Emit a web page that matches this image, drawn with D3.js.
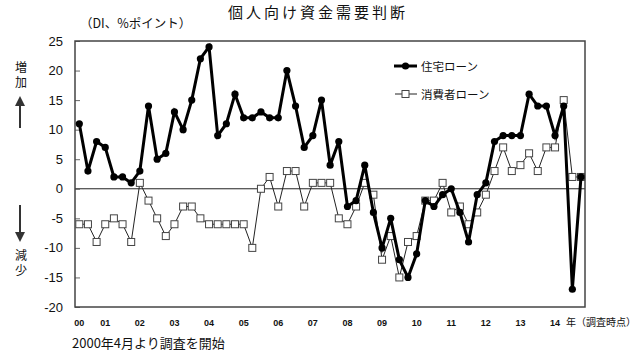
<!DOCTYPE html>
<html>
<head>
<meta charset="utf-8">
<script src="https://cdn.jsdelivr.net/npm/d3@7"></script>
<style>
  body { margin: 0; background: #fff; }
  text { font-family: "Noto Sans CJK JP", "Noto Sans", sans-serif; fill: #111; }
</style>
</head>
<body>
<svg id="chart"></svg>
<script>
// Set up the SVG dimensions
const width = 640;
const height = 359;

// quarterly surveys, starting April 2000
const startYear = 2000;
const startQuarter = 1; // 0 = Jan, 1 = Apr, 2 = Jul, 3 = Oct

// 住宅ローン
const housingLoan = [
  11, 3, 8, 7, 2, 2, 1, 3, 14, 5, 6, 13, 10, 15, 22, 24, 9, 11, 16, 12,
  12, 13, 12, 12, 20, 14, 7, 9, 15, 4, 8, -3, -2, 4, -4, -10, -5, -12, -15, -11,
  -2, -3, -1, 0, -4, -9, -1, 1, 8, 9, 9, 9, 16, 14, 14, 9, 14, -17, 2
];

// 消費者ローン
const consumerLoan = [
  -6, -6, -9, -6, -5, -6, -9, 1, -2, -5, -8, -6, -3, -3, -5, -6, -6, -6, -6, -6,
  -10, 0, 2, -3, 3, 3, -3, 1, 1, 1, -5, -6, -3, 1, -1, -12, -8, -15, -9, -8,
  -2, -2, 1, -4, -3, -6, -4, -1, 3, 7, 3, 4, 6, 3, 7, 7, 15, 2, 2
];

const seriesNames = ["住宅ローン", "消費者ローン"];
const yTicks = [25, 20, 15, 10, 5, 0, -5, -10, -15, -20];
const sideLabels = ["増加", "減少"];

const title = "個人向け資金需要判断";
const unitLabel = "（DI、%ポイント）";
const xUnitLabel = "年（調査時点）";
const note = "2000年4月より調査を開始";

const svg = d3.select("#chart")
  .attr("width", width)
  .attr("height", height);

const plot = { left: 75, right: 585, top: 41, bottom: 307 };

const x = d3.scaleLinear()
  .domain([0, housingLoan.length - 1])
  .range([79.3, 581]);

const y = d3.scaleLinear()
  .domain([-20, 25])
  .range([plot.bottom, plot.top]);

// year label goes on the first survey of each year
const yearTicks = d3.range(housingLoan.length)
  .filter(i => i === 0 || (i + startQuarter) % 4 === 0)
  .map(i => ({ i, label: String(startYear + Math.floor((i + startQuarter) / 4)).slice(2) }));

// zero line
svg.append("line")
  .attr("x1", plot.left).attr("x2", plot.right)
  .attr("y1", y(0)).attr("y2", y(0))
  .attr("stroke", "#222")
  .attr("stroke-width", 1);

// y axis (ticks point inward)
const yAxis = svg.append("g")
  .attr("transform", `translate(${plot.left},0)`)
  .call(d3.axisRight(y).tickValues(yTicks).tickSize(5).tickFormat(""));
yAxis.select(".domain").remove();
yAxis.selectAll("line").attr("stroke", "#666");

svg.append("g")
  .selectAll("text")
  .data(yTicks)
  .enter()
  .append("text")
  .attr("x", 63)
  .attr("y", d => y(d))
  .attr("dy", "0.35em")
  .attr("text-anchor", "end")
  .style("font-family", "'Liberation Sans', Arial, sans-serif")
  .style("font-size", "13px")
  .text(d => d);

// frame
svg.append("rect")
  .attr("x", plot.left).attr("y", plot.top)
  .attr("width", plot.right - plot.left)
  .attr("height", plot.bottom - plot.top)
  .attr("fill", "none")
  .attr("stroke", "#444")
  .attr("stroke-width", 1.5);

// x labels
svg.append("g")
  .selectAll("text")
  .data(yearTicks)
  .enter()
  .append("text")
  .attr("x", d => x(d.i))
  .attr("y", 323)
  .attr("dy", "0.35em")
  .attr("text-anchor", "middle")
  .style("font-family", "'Liberation Sans', Arial, sans-serif")
  .style("font-size", "9px")
  .style("font-weight", "bold")
  .text(d => d.label);

svg.append("text")
  .attr("x", 566).attr("y", 322)
  .attr("dy", "0.35em")
  .style("font-size", "10px")
  .text(xUnitLabel);

// consumer loan line + squares
const line = data => d3.line()
  .x((d, i) => x(i))
  .y(d => y(d))(data);

svg.append("path")
  .attr("d", line(consumerLoan))
  .attr("fill", "none")
  .attr("stroke", "#222")
  .attr("stroke-width", 1);

svg.append("g")
  .selectAll("rect")
  .data(consumerLoan)
  .enter()
  .append("rect")
  .attr("x", (d, i) => x(i) - 3.5)
  .attr("y", d => y(d) - 3.5)
  .attr("width", 7)
  .attr("height", 7)
  .attr("fill", "#fff")
  .attr("stroke", "#444")
  .attr("stroke-width", 1);

// housing loan line + dots
svg.append("path")
  .attr("d", line(housingLoan))
  .attr("fill", "none")
  .attr("stroke", "#000")
  .attr("stroke-width", 3);

svg.append("g")
  .selectAll("circle")
  .data(housingLoan)
  .enter()
  .append("circle")
  .attr("cx", (d, i) => x(i))
  .attr("cy", d => y(d))
  .attr("r", 3.6)
  .attr("fill", "#000");

// legend
const legend = svg.append("g");
legend.append("line")
  .attr("x1", 394).attr("x2", 417).attr("y1", 66).attr("y2", 66)
  .attr("stroke", "#000").attr("stroke-width", 3);
legend.append("circle")
  .attr("cx", 405.5).attr("cy", 66).attr("r", 3.6).attr("fill", "#000");
legend.append("text")
  .attr("x", 421).attr("y", 67).attr("dy", "0.35em")
  .style("font-size", "11.5px")
  .text(seriesNames[0]);

legend.append("line")
  .attr("x1", 395).attr("x2", 417).attr("y1", 94).attr("y2", 94)
  .attr("stroke", "#222").attr("stroke-width", 1);
legend.append("rect")
  .attr("x", 402).attr("y", 90.5).attr("width", 7).attr("height", 7)
  .attr("fill", "#fff").attr("stroke", "#444");
legend.append("text")
  .attr("x", 421).attr("y", 95).attr("dy", "0.35em")
  .style("font-size", "11.5px")
  .text(seriesNames[1]);

// titles
svg.append("text")
  .attr("x", 228).attr("y", 13).attr("dy", "0.35em")
  .attr("textLength", 177)
  .attr("lengthAdjust", "spacing")
  .style("font-size", "15px")
  .text(title);

svg.append("text")
  .attr("x", 80).attr("y", 24).attr("dy", "0.35em")
  .style("font-size", "12.5px")
  .text(unitLabel);

svg.append("text")
  .attr("x", 72).attr("y", 343).attr("dy", "0.35em")
  .style("font-size", "13px")
  .text(note);

// side labels (vertical) with arrows
const side = svg.append("g");
side.selectAll("text")
  .data(sideLabels)
  .enter()
  .append("text")
  .attr("x", 21)
  .attr("y", (d, k) => k === 0 ? 61 : 249)
  .style("writing-mode", "vertical-rl")
  .style("font-size", "12px")
  .style("letter-spacing", "3px")
  .text(d => d);

svg.append("defs").append("marker")
  .attr("id", "arrow")
  .attr("viewBox", "0 0 10 10")
  .attr("refX", 5).attr("refY", 5)
  .attr("markerWidth", 5).attr("markerHeight", 5)
  .attr("orient", "auto-start-reverse")
  .append("path")
  .attr("d", "M0,0L10,5L0,10Z")
  .attr("fill", "#333");

side.append("line")
  .attr("x1", 20).attr("x2", 20).attr("y1", 128).attr("y2", 101)
  .attr("stroke", "#333").attr("stroke-width", 2)
  .attr("marker-end", "url(#arrow)");
side.append("line")
  .attr("x1", 20).attr("x2", 20).attr("y1", 205).attr("y2", 237)
  .attr("stroke", "#333").attr("stroke-width", 2)
  .attr("marker-end", "url(#arrow)");
</script>
</body>
</html>
